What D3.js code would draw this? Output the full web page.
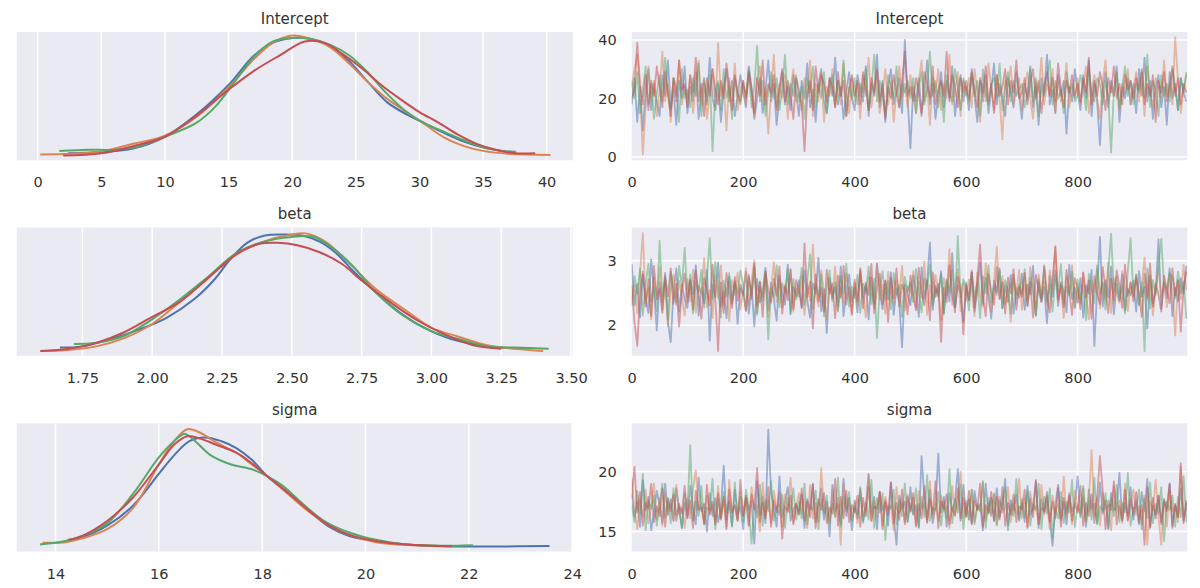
<!DOCTYPE html>
<html><head><meta charset="utf-8">
<script src="https://cdn.jsdelivr.net/npm/d3@7/dist/d3.min.js"></script>
<style>
html,body{margin:0;padding:0;background:#fff;}
svg{display:block;}
text{font-family:"DejaVu Sans",sans-serif;fill:#333;}
</style></head>
<body><svg id="chart" width="1200" height="588"></svg>
<script>
// ---------- data ----------
const paramNames = ["Intercept", "beta", "sigma"];
const chainColors = ["#4c72b0", "#dd8452", "#55a868", "#c44e52"];

const kdeTicksIntercept = [0, 5, 10, 15, 20, 25, 30, 35, 40];
const kdeTicksBeta = [1.75, 2.00, 2.25, 2.50, 2.75, 3.00, 3.25, 3.50];
const kdeTicksSigma = [14, 16, 18, 20, 22, 24];
const traceXTicks = [0, 200, 400, 600, 800];
const traceYTicksIntercept = [0, 20, 40];
const traceYTicksBeta = [2, 3];
const traceYTicksSigma = [15, 20];

// KDE curves per chain: [value, relative density]
const kdeIntercept = [
 [[2.4,0.02],[5,0.03],[7.5,0.06],[10,0.16],[12.5,0.35],[15,0.6],[17,0.85],[18.5,0.96],[20,1.0],[21.5,0.99],[23,0.93],[24.5,0.8],[26,0.62],[27.5,0.45],[29,0.35],[30.5,0.27],[32,0.19],[33.5,0.12],[35,0.07],[36.5,0.04],[37.6,0.03]],
 [[0.2,0.01],[2.5,0.015],[5,0.035],[7.5,0.1],[10,0.17],[12.5,0.33],[15,0.58],[17,0.82],[18.5,0.96],[20,1.02],[21.5,0.99],[23,0.92],[24.5,0.78],[26,0.62],[27.5,0.48],[29,0.37],[30.5,0.26],[32,0.15],[33.5,0.08],[35,0.04],[37,0.015],[40.3,0.005]],
 [[1.7,0.04],[4,0.05],[6,0.05],[8,0.08],[10,0.16],[12.5,0.28],[14,0.42],[15.5,0.63],[17,0.84],[18.5,0.97],[20,1.0],[21.5,0.99],[23,0.94],[24.5,0.85],[26,0.7],[27.5,0.52],[29,0.37],[30.5,0.27],[32,0.2],[33.5,0.13],[35,0.07],[36.5,0.04],[37.6,0.03]],
 [[2,0.0],[5,0.02],[7.5,0.08],[10,0.16],[12.5,0.34],[15,0.56],[17,0.72],[19,0.85],[21,0.97],[22.5,0.96],[24,0.86],[25.5,0.74],[27,0.6],[28.5,0.48],[30,0.37],[31.5,0.28],[33,0.18],[34.5,0.1],[36,0.05],[37.5,0.02],[39.1,0.02]]
];
const kdeBeta = [
 [[1.67,0.03],[1.75,0.04],[1.85,0.1],[1.95,0.18],[2.05,0.28],[2.15,0.44],[2.22,0.6],[2.28,0.78],[2.34,0.92],[2.4,0.98],[2.47,0.99],[2.54,0.98],[2.6,0.93],[2.66,0.83],[2.72,0.68],[2.8,0.5],[2.88,0.34],[2.95,0.23],[3.05,0.12],[3.15,0.06],[3.25,0.03],[3.35,0.02]],
 [[1.6,0.0],[1.7,0.01],[1.8,0.04],[1.9,0.11],[2.0,0.23],[2.1,0.42],[2.2,0.62],[2.3,0.82],[2.4,0.93],[2.5,0.99],[2.55,1.0],[2.62,0.93],[2.7,0.76],[2.8,0.53],[2.9,0.36],[3.0,0.2],[3.1,0.12],[3.2,0.05],[3.3,0.02],[3.4,0.0]],
 [[1.72,0.06],[1.8,0.07],[1.9,0.13],[2.0,0.27],[2.1,0.44],[2.2,0.63],[2.3,0.83],[2.4,0.93],[2.5,0.97],[2.58,0.97],[2.65,0.87],[2.72,0.72],[2.8,0.5],[2.9,0.3],[3.0,0.17],[3.1,0.1],[3.2,0.04],[3.3,0.03],[3.42,0.02]],
 [[1.6,0.0],[1.7,0.02],[1.8,0.07],[1.9,0.16],[2.0,0.29],[2.1,0.42],[2.2,0.62],[2.3,0.82],[2.38,0.91],[2.45,0.92],[2.52,0.9],[2.6,0.84],[2.68,0.74],[2.75,0.6],[2.85,0.42],[2.95,0.26],[3.05,0.14],[3.15,0.05],[3.25,0.02]]
];
const kdeSigma = [
 [[14.2,0.05],[14.5,0.08],[15,0.18],[15.5,0.35],[16,0.62],[16.3,0.78],[16.6,0.9],[16.9,0.93],[17.2,0.9],[17.5,0.84],[17.8,0.74],[18.1,0.6],[18.5,0.46],[18.9,0.31],[19.3,0.17],[19.7,0.09],[20.2,0.05],[20.8,0.02],[21.5,0.005],[22.5,0.003],[23.56,0.008]],
 [[13.75,0.035],[14.2,0.04],[14.5,0.07],[15,0.15],[15.5,0.33],[16,0.7],[16.3,0.9],[16.55,1.0],[16.8,0.97],[17.1,0.89],[17.5,0.8],[17.8,0.7],[18.1,0.6],[18.5,0.45],[18.9,0.3],[19.3,0.18],[19.7,0.1],[20.2,0.04],[20.8,0.015],[21.4,0.01]],
 [[13.7,0.02],[14.2,0.05],[14.5,0.09],[15,0.2],[15.5,0.45],[16,0.76],[16.3,0.9],[16.5,0.96],[16.7,0.9],[17,0.78],[17.4,0.7],[17.8,0.66],[18.1,0.6],[18.4,0.52],[18.8,0.36],[19.2,0.22],[19.7,0.12],[20.2,0.06],[20.8,0.02],[21.5,0.01],[22.08,0.015]],
 [[14.25,0.06],[14.5,0.09],[15,0.22],[15.5,0.42],[16,0.7],[16.3,0.87],[16.55,0.94],[16.8,0.92],[17.1,0.87],[17.5,0.8],[17.8,0.71],[18.1,0.6],[18.5,0.46],[18.9,0.31],[19.3,0.18],[19.7,0.1],[20.2,0.05],[20.8,0.02],[21.67,0.005]]
];

// Trace values, one sample every 5 draws (200 per chain)
const drawStep = 5;
const traceIntercept = [
 [18,27,12,24,9,22,30,16,25,19,14,28,21,33,17,23,11,26,20,31,
  15,24,19,29,13,22,27,18,34,20,16,25,12,23,30,19,26,14,21,28,
  22,17,31,24,13,20,27,15,23,33,19,25,11,21,29,18,24,16,28,22,
  14,26,20,32,17,23,12,25,30,19,15,27,21,34,18,24,13,22,29,20,
  16,28,23,19,31,14,25,21,35,17,26,12,24,30,18,22,27,15,40,20,
  3,24,19,27,15,22,33,18,25,13,21,29,17,26,20,31,14,23,28,19,
  24,16,30,21,12,26,19,28,15,23,32,18,25,20,14,27,22,17,29,21,
  13,25,20,31,17,24,11,27,22,35,18,23,15,28,21,26,8,24,19,30,
  22,16,28,20,33,14,25,19,4,23,29,17,26,21,31,12,24,20,27,18,
  25,15,30,21,34,19,26,13,23,28,17,24,11,29,20,25,16,27,22,19],
 [24,30,35,22,0.8,17,31,20,26,14,23,36,19,25,12,27,21,33,18,24,
  20,28,15,24,33,18,26,13,22,30,17,39,21,25,9,27,19,32,16,23,
  26,18,29,21,14,27,31,19,24,8,22,35,17,25,20,28,13,23,30,19,
  22,16,27,20,33,14,25,19,29,12,24,21,30,17,26,18,32,22,15,27,
  19,25,13,28,21,34,17,24,29,15,22,30,18,26,12,23,31,20,25,17,
  28,21,15,26,33,19,24,11,27,22,30,16,25,20,35,18,23,29,14,26,
  21,27,17,30,22,12,25,19,32,23,16,28,20,6,26,24,31,18,22,27,
  16,24,29,20,13,26,22,34,18,25,21,30,15,27,19,23,32,17,24,20,
  27,18,24,31,15,22,28,20,13,26,33,19,24,21,29,16,25,22,30,18,
  23,29,19,26,14,31,22,17,27,24,20,33,21,25,18,41,26,15,23,28],
 [26,20,29,15,23,31,18,25,13,22,28,19,34,21,16,27,24,12,30,20,
  23,17,27,21,32,14,25,19,28,2,22,26,16,30,20,24,13,27,21,18,
  25,21,30,17,24,38,19,26,14,22,29,20,27,16,23,35,18,25,21,28,
  19,24,13,27,22,31,17,25,20,29,15,23,28,18,26,21,33,14,24,20,
  27,18,25,22,30,16,23,35,19,26,21,14,28,24,20,31,17,25,22,26,
  20,27,15,24,29,18,23,36,21,26,17,25,12,28,22,19,30,24,16,27,
  23,19,28,21,26,14,30,22,18,25,27,20,32,16,24,29,19,26,21,23,
  25,17,22,30,19,27,14,24,21,28,33,18,26,20,23,15,29,22,25,19,
  21,28,24,16,30,22,19,27,25,18,26,20,1.5,23,29,17,24,31,21,26,
  18,25,22,29,20,35,17,26,23,14,28,21,25,19,30,24,16,27,22,29],
 [20,23,39,25,18,28,16,26,21,31,24,17,29,22,14,27,19,33,23,25,
  17,28,22,34,19,25,14,27,21,30,23,18,26,20,32,24,16,28,22,19,
  26,20,29,23,15,27,21,33,18,25,22,28,16,24,30,19,26,21,13,27,
  23,18,2,21,26,16,31,22,28,25,19,27,24,17,29,21,26,14,23,28,
  21,26,18,29,23,16,27,22,30,19,25,13,24,20,28,22,17,26,36,21,
  24,19,27,22,14,29,25,20,31,18,23,26,21,36,19,28,24,17,27,22,
  26,20,29,23,17,27,22,31,19,25,15,28,21,24,30,18,26,22,33,20,
  22,27,18,25,30,20,26,15,24,29,21,27,19,32,23,17,26,22,28,21,
  25,19,27,22,34,18,26,21,29,24,16,27,22,31,20,25,18,28,23,26,
  20,27,23,30,18,25,21,28,12,26,22,29,19,24,31,21,27,18,25,22]
];
const traceBeta = [
 [2.95,2.31,2.64,2.12,2.78,2.43,2.19,3.02,2.55,1.92,2.67,2.36,2.81,2.05,1.74,2.52,2.88,2.21,2.63,2.40,
  2.27,2.71,2.48,2.93,2.15,2.58,2.34,2.86,1.76,2.62,2.44,2.97,2.29,2.53,2.11,2.75,2.39,2.68,2.02,2.57,
  2.46,2.83,2.18,2.61,1.98,2.72,2.35,2.54,2.89,2.23,2.66,2.41,2.07,2.76,2.50,2.32,2.94,2.17,2.59,2.45,
  2.70,2.26,2.85,2.38,2.12,2.65,2.49,3.05,2.22,2.56,1.88,2.73,2.42,2.60,2.30,2.91,2.14,2.52,2.79,2.37,
  2.58,2.20,2.87,2.43,2.66,2.09,2.74,2.33,2.96,2.51,2.25,2.69,2.40,2.82,2.16,2.57,2.35,1.66,2.63,2.47,
  2.31,2.77,2.54,2.13,2.90,2.42,2.68,3.28,2.24,2.59,2.46,2.84,2.19,2.71,2.37,3.12,2.28,2.62,2.50,2.05,
  2.66,2.39,2.81,2.21,2.55,2.97,2.33,2.74,2.45,2.10,2.69,2.52,2.88,2.27,2.61,2.36,2.78,2.18,2.57,2.43,
  2.80,2.24,2.63,2.48,2.92,2.15,2.71,2.37,2.59,2.03,2.76,2.44,2.85,2.30,2.67,2.52,2.20,2.94,2.41,2.58,
  2.35,2.73,2.12,2.62,2.49,2.86,1.68,2.55,3.37,2.29,2.70,2.43,2.91,2.17,2.64,2.38,2.79,2.23,2.56,2.47,
  2.69,2.21,2.84,2.45,2.60,1.95,2.77,2.34,2.53,3.33,2.26,2.66,2.42,2.88,2.14,2.58,2.37,2.73,2.49,2.92],
 [2.40,2.62,2.18,2.81,3.43,2.35,2.57,2.09,2.74,2.46,2.90,2.23,2.65,1.99,2.53,2.78,2.31,2.69,2.44,2.15,
  2.72,2.37,2.86,2.20,2.61,2.49,3.04,2.28,2.55,2.11,2.77,2.42,2.93,2.33,2.58,2.06,2.70,2.47,2.82,2.25,
  2.53,2.88,2.30,2.67,3.01,2.19,2.60,2.44,2.79,2.13,2.56,2.98,2.36,2.71,2.27,2.63,2.50,2.85,2.21,2.57,
  2.44,2.76,2.16,2.63,2.38,3.25,2.52,2.29,2.85,2.47,2.10,2.68,2.41,2.91,2.24,2.59,2.35,2.80,2.55,2.19,
  2.66,2.31,2.89,2.48,2.12,2.74,2.57,2.26,2.95,2.40,2.63,2.18,2.83,2.51,2.34,2.70,2.45,2.92,2.23,2.61,
  2.50,2.84,2.27,2.68,2.43,2.99,2.16,2.62,2.39,2.78,2.54,2.08,2.73,2.46,3.18,2.32,2.59,2.87,2.22,2.65,
  2.38,2.71,2.55,2.14,2.82,2.47,2.29,2.96,2.53,2.20,2.67,3.22,2.41,2.76,2.33,2.58,2.05,2.72,2.49,2.86,
  2.24,2.63,2.40,2.90,2.52,2.17,2.79,2.44,2.68,2.30,2.85,2.56,3.23,2.36,2.61,2.11,2.75,2.48,2.93,2.27,
  2.57,2.34,2.81,2.45,2.09,2.70,2.52,2.88,2.26,2.64,2.41,2.97,2.19,2.73,2.50,2.35,2.84,2.60,2.22,2.67,
  2.46,2.78,2.31,2.62,3.05,2.38,2.71,2.15,2.56,2.89,2.43,2.66,2.28,2.80,2.51,1.84,2.69,2.40,2.94,2.54],
 [2.30,2.76,2.49,2.88,2.15,2.64,2.95,2.37,2.58,2.22,3.31,2.46,2.71,2.09,2.83,2.53,2.35,2.92,2.60,3.20,
  2.43,2.79,2.18,2.66,2.51,2.86,2.27,2.73,3.35,2.41,2.98,2.56,2.12,2.69,2.45,2.81,2.33,2.63,2.50,2.85,
  2.61,2.24,2.75,2.47,2.90,2.16,2.68,2.38,2.82,1.78,2.57,2.44,2.93,2.28,2.65,2.51,2.87,2.20,2.72,2.40,
  2.55,2.89,2.32,2.70,3.10,2.26,2.63,2.46,2.79,2.14,2.58,2.85,2.37,2.67,2.21,2.76,2.49,2.95,2.29,2.60,
  2.42,2.78,2.19,2.64,2.50,2.91,2.33,2.72,1.80,2.56,2.84,2.39,2.68,2.25,2.81,2.47,2.62,2.13,2.75,2.53,
  2.66,2.36,2.87,2.48,2.20,2.73,2.57,2.94,2.31,2.62,2.44,2.80,2.17,2.69,2.52,2.86,2.28,3.38,2.45,2.71,
  2.58,2.23,2.82,2.43,2.67,2.11,2.76,2.50,2.93,2.35,2.61,2.47,2.85,2.26,2.70,2.54,2.18,2.79,2.41,2.64,
  2.49,2.87,2.30,2.74,2.56,2.15,2.68,2.42,2.90,2.36,2.63,2.21,2.77,2.52,2.95,2.33,2.60,2.46,2.83,2.27,
  2.71,2.40,2.62,2.08,2.80,2.55,2.34,2.93,2.48,2.67,2.24,2.86,3.42,2.52,2.75,2.39,2.61,2.18,2.84,3.35,
  2.44,2.79,2.31,2.66,1.60,2.88,2.26,2.70,2.47,2.92,3.34,2.61,2.57,2.81,2.74,2.42,2.83,2.50,2.68,2.10],
 [2.62,2.05,1.68,2.48,2.83,2.29,2.71,2.14,2.92,2.40,2.57,2.19,2.76,2.45,2.88,2.33,2.64,1.98,2.52,2.80,
  2.36,2.69,2.24,2.85,2.47,2.10,2.73,2.55,2.31,2.94,2.42,1.60,2.66,2.19,2.81,2.50,2.27,2.75,2.38,2.63,
  2.49,2.22,2.78,2.41,2.96,2.30,2.67,2.13,2.84,2.54,2.35,2.72,2.46,2.91,2.18,2.60,2.39,2.87,2.25,2.70,
  2.53,2.28,3.27,2.44,2.68,1.95,2.79,2.37,2.58,2.21,2.86,2.49,2.65,2.11,2.77,2.43,2.92,2.32,2.59,2.16,
  2.71,2.38,2.84,2.26,2.62,2.47,2.95,2.19,2.56,2.80,2.33,2.69,2.05,2.74,2.42,2.88,2.29,2.63,2.51,2.17,
  2.77,2.45,2.23,2.89,2.52,2.31,2.70,2.08,2.82,2.44,2.64,1.74,2.58,2.36,2.93,2.48,2.20,2.75,2.57,1.86,
  2.62,2.39,2.85,2.27,2.68,3.25,2.46,2.14,2.79,2.53,2.32,2.90,2.41,2.66,2.18,2.74,2.50,2.87,2.24,2.60,
  2.44,2.81,2.30,2.67,2.12,2.78,2.55,2.36,2.93,2.47,2.20,2.71,3.21,2.40,2.63,2.28,2.86,2.52,2.16,2.73,
  2.58,2.25,2.82,2.43,2.69,2.10,2.76,2.49,2.33,2.90,2.56,2.19,2.72,2.38,2.85,2.61,2.27,2.94,2.45,2.66,
  2.37,2.74,2.51,2.13,2.80,2.42,2.96,2.29,2.64,2.48,2.21,2.77,2.55,2.34,2.88,2.46,2.70,1.90,2.59,2.83]
];
const traceSigma = [
 [18.1,16.2,17.5,15.4,19.3,16.8,17.9,15.1,16.6,18.4,17.2,15.7,19.0,16.4,17.7,15.9,18.6,16.9,15.3,17.4,
  16.1,18.8,17.0,15.6,19.5,16.7,17.3,15.0,18.2,16.3,17.8,15.8,16.9,20.5,16.0,17.6,15.5,18.5,16.5,17.1,
  15.2,18.0,16.8,17.5,14.0,19.2,16.4,17.9,15.7,23.5,18.3,17.0,15.4,19.6,16.2,17.4,18.7,15.9,16.8,17.3,
  16.5,18.1,15.3,17.7,16.9,19.0,15.8,17.2,18.6,16.0,17.5,14.6,18.9,16.7,17.3,15.6,19.4,16.3,17.8,15.1,
  17.6,16.1,18.4,15.9,17.0,19.8,16.6,17.9,15.2,18.3,16.8,17.4,15.5,19.1,16.2,13.9,18.0,16.9,17.5,15.8,
  18.7,16.4,17.2,15.3,21.3,17.8,16.0,18.5,15.7,17.1,21.5,16.6,17.9,15.4,18.2,16.8,17.5,20.2,16.1,18.9,
  16.3,17.7,15.6,18.4,16.9,17.3,15.1,19.0,16.5,17.8,15.9,18.6,16.2,17.1,19.4,15.5,17.6,16.8,18.1,16.0,
  17.4,15.8,18.8,16.4,17.0,19.2,15.3,17.7,16.6,18.3,15.9,13.8,17.2,18.9,16.1,17.5,15.6,18.0,16.7,17.3,
  19.6,16.2,17.8,15.4,18.5,16.9,17.3,15.7,19.1,16.5,17.6,15.2,18.2,16.8,17.0,19.9,15.9,17.4,16.3,18.7,
  16.0,17.5,15.6,18.3,16.7,19.4,15.3,17.1,16.4,18.0,15.8,17.7,16.9,19.0,15.5,17.2,16.2,18.6,15.9,17.4],
 [19.4,16.8,15.2,17.6,16.3,18.5,15.7,17.1,19.0,16.0,17.8,15.5,18.2,16.6,17.3,15.9,18.9,16.4,17.0,15.3,
  17.7,16.1,18.6,20.1,16.9,17.4,15.6,18.0,16.5,17.2,15.8,18.8,16.2,17.6,15.4,19.3,16.7,17.1,15.9,18.3,
  16.4,17.9,15.5,18.7,16.8,17.2,15.0,19.1,16.3,17.6,15.7,18.4,16.9,17.3,15.4,18.1,16.6,19.5,15.8,17.0,
  18.2,16.5,17.7,15.3,18.9,16.1,17.4,15.8,20.3,16.7,17.1,15.6,18.5,16.3,17.8,13.9,19.0,16.9,17.5,16.0,
  17.3,15.7,18.6,16.4,17.0,19.7,15.9,17.6,16.2,18.3,15.5,17.9,16.8,17.2,15.1,18.7,16.5,17.4,15.8,18.1,
  16.6,17.8,15.4,18.4,16.9,17.3,15.7,19.2,16.1,17.5,15.9,18.0,16.7,17.1,15.3,18.8,16.4,17.7,20.0,16.2,
  17.6,16.0,18.5,15.6,17.2,16.8,19.1,15.9,17.4,16.3,18.2,15.5,17.9,16.6,17.0,18.7,15.8,17.3,16.5,19.4,
  16.1,17.7,15.4,18.3,16.8,17.1,15.7,18.9,16.4,17.5,15.2,18.0,16.7,17.3,15.9,19.6,16.2,17.8,15.6,18.4,
  17.0,16.5,18.6,15.8,17.4,21.8,16.3,17.9,15.5,18.2,16.9,17.2,15.1,18.8,16.6,17.6,15.7,19.0,16.0,17.3,
  18.5,16.4,17.1,15.6,18.0,13.9,17.5,16.8,19.3,16.2,13.9,17.7,15.4,18.4,16.7,17.2,15.8,20.4,16.1,17.0],
 [17.2,15.8,18.4,16.5,19.8,15.1,17.6,16.9,18.0,15.5,17.3,19.0,16.2,17.8,15.7,18.6,16.4,17.1,15.3,18.2,
  16.7,22.2,15.9,17.5,16.3,18.8,15.6,17.0,16.8,19.4,15.2,17.7,16.1,18.3,16.6,17.4,15.4,19.1,16.0,17.9,
  15.8,18.5,16.9,14.0,17.3,16.2,18.9,15.5,17.6,16.7,19.2,15.9,17.1,16.4,18.1,15.3,17.8,16.6,18.6,16.0,
  17.5,16.1,19.0,15.6,17.2,16.8,18.4,15.2,17.7,16.5,18.0,15.8,17.3,16.2,19.5,15.4,17.9,16.7,18.3,15.9,
  17.0,16.4,18.7,15.7,17.4,16.0,19.3,15.3,17.8,16.6,18.2,14.3,17.1,16.9,18.5,15.6,17.6,16.3,19.0,15.8,
  17.3,16.5,18.6,15.4,17.9,16.2,19.7,15.9,17.0,16.8,18.3,15.5,17.5,16.1,20.2,15.7,17.7,16.6,18.9,15.2,
  17.4,16.0,18.5,15.8,17.1,16.7,19.2,15.3,17.8,16.4,18.1,15.6,17.6,16.9,18.7,15.1,17.2,16.3,19.4,15.9,
  17.7,16.2,18.4,15.5,17.3,16.8,19.0,15.2,17.9,16.5,18.6,14.5,17.0,16.1,18.3,15.7,17.5,16.6,19.3,15.4,
  17.2,16.4,18.8,15.9,17.6,16.0,19.5,15.6,17.1,16.7,18.2,15.3,17.8,16.3,18.9,15.8,17.4,16.6,19.9,15.5,
  17.0,16.9,18.5,15.2,17.7,16.1,19.1,15.7,17.3,16.5,18.7,14.2,17.5,16.8,18.0,15.4,17.9,16.2,19.6,15.8],
 [17.8,20.4,16.6,18.3,15.5,17.4,16.9,19.0,15.8,17.1,16.3,18.6,15.4,17.7,16.7,18.1,15.9,17.3,16.5,18.8,
  16.2,17.6,15.3,18.4,16.8,17.0,15.7,18.9,16.4,17.5,15.6,18.2,16.0,17.9,15.2,18.5,16.6,17.2,15.9,19.3,
  16.3,17.8,15.5,18.1,16.9,20.3,15.8,17.4,16.1,18.7,15.4,17.6,16.6,18.3,14.4,17.1,16.7,18.0,15.6,17.3,
  16.4,18.6,15.9,17.5,16.2,18.9,15.3,17.7,16.8,18.2,15.7,17.0,16.5,19.4,15.5,17.9,16.1,18.4,15.8,17.2,
  16.6,18.0,15.4,17.8,16.3,18.7,15.9,17.1,16.9,18.3,15.2,17.6,16.4,19.1,15.7,17.4,16.0,18.5,15.6,17.9,
  16.7,18.2,15.5,17.3,16.1,18.8,15.8,17.7,16.5,19.2,15.3,17.5,16.9,18.1,15.6,17.0,16.3,18.6,15.9,17.8,
  16.2,18.4,15.7,17.6,16.8,19.0,15.4,17.2,16.6,18.3,15.9,17.9,16.0,18.7,15.5,17.4,16.4,18.1,15.8,17.1,
  16.9,18.5,15.3,17.7,16.2,19.3,15.6,17.0,16.7,18.0,15.8,17.5,16.1,18.6,15.4,17.8,16.5,18.2,15.9,17.3,
  16.6,18.8,15.5,17.4,16.3,18.1,15.7,17.9,21.3,18.4,15.2,17.6,16.8,19.2,15.6,17.1,16.0,18.5,15.9,17.7,
  16.4,18.3,15.8,17.2,13.9,18.7,15.4,17.8,16.1,18.0,15.6,17.5,16.7,19.0,15.3,17.3,16.2,20.7,15.7,17.6]
];

// ---------- layout ----------
const svg = d3.select("#chart");
const leftX0 = 16.7, leftX1 = 572.7, rightX0 = 631.7, rightX1 = 1187.3;
const rowTop = [32, 227.5, 423.3], rowH = 128.3;

const rows = [
  {name: paramNames[0], kde: kdeIntercept, trace: traceIntercept, kdeTicks: kdeTicksIntercept, kdeDom: [-1.65, 42.05], kdeFmt: d3.format("d"), yTicks: traceYTicksIntercept, yDom: [-1.13, 42.74]},
  {name: paramNames[1], kde: kdeBeta, trace: traceBeta, kdeTicks: kdeTicksBeta, kdeDom: [1.515, 3.506], kdeFmt: d3.format(".2f"), yTicks: traceYTicksBeta, yDom: [1.526, 3.516]},
  {name: paramNames[2], kde: kdeSigma, trace: traceSigma, kdeTicks: kdeTicksSigma, kdeDom: [13.25, 24.01], kdeFmt: d3.format("d"), yTicks: traceYTicksSigma, yDom: [13.33, 24.03]}
];

const defs = svg.append("defs");

rows.forEach((r, ri) => {
  const top = rowTop[ri], bot = top + rowH;

  // ---- left KDE panel ----
  const gL = svg.append("g");
  const xk = d3.scaleLinear().domain(r.kdeDom).range([leftX0, leftX1]);
  const yk = d3.scaleLinear().domain([-0.04, 1.05]).range([bot, top]);
  gL.append("rect").attr("x", leftX0).attr("y", top).attr("width", leftX1 - leftX0).attr("height", rowH).attr("fill", "#eaeaf2");
  const axL = d3.axisBottom(xk).tickValues(r.kdeTicks).tickFormat(r.kdeFmt).tickSize(0).tickPadding(0);
  gL.selectAll("line.grid").data(r.kdeTicks.filter(t => xk(t) > leftX0 && xk(t) < leftX1)).join("line")
    .attr("x1", d => xk(d)).attr("x2", d => xk(d)).attr("y1", top).attr("y2", bot)
    .attr("stroke", "#fff").attr("stroke-width", 1.5);
  const axLg = gL.append("g").attr("transform", `translate(0,${bot})`).call(axL);
  axLg.select(".domain").remove();
  axLg.selectAll("text").attr("y", 27).attr("dy", 0).attr("font-size", 14.5).attr("fill", "#333").attr("font-family", "DejaVu Sans");

  const clipL = "clipL" + ri;
  defs.append("clipPath").attr("id", clipL).append("rect").attr("x", leftX0).attr("y", top).attr("width", leftX1 - leftX0).attr("height", rowH);
  const line = d3.line().x(d => xk(d[0])).y(d => yk(d[1])).curve(d3.curveCatmullRom.alpha(0.5));
  gL.append("g").attr("clip-path", `url(#${clipL})`).selectAll("path").data(r.kde).join("path")
    .attr("d", d => line(d)).attr("fill", "none")
    .attr("stroke", (d, i) => chainColors[i]).attr("stroke-width", 2);

  svg.append("text").attr("x", (leftX0 + leftX1) / 2).attr("y", top - 8.5).attr("text-anchor", "middle")
    .attr("font-size", 15).text(r.name);

  // ---- right trace panel ----
  const gR = svg.append("g");
  const xt = d3.scaleLinear().domain([0, 996.7]).range([rightX0, rightX1]);
  const yt = d3.scaleLinear().domain(r.yDom).range([bot, top]);
  gR.append("rect").attr("x", rightX0).attr("y", top).attr("width", rightX1 - rightX0).attr("height", rowH).attr("fill", "#eaeaf2");
  gR.selectAll("line.vg").data(traceXTicks.filter(t => t > 0)).join("line")
    .attr("x1", d => xt(d)).attr("x2", d => xt(d)).attr("y1", top).attr("y2", bot)
    .attr("stroke", "#fff").attr("stroke-width", 1.5);
  gR.selectAll("line.hg").data(r.yTicks).join("line")
    .attr("x1", rightX0).attr("x2", rightX1).attr("y1", d => yt(d)).attr("y2", d => yt(d))
    .attr("stroke", "#fff").attr("stroke-width", 1.5);

  const axB = gR.append("g").attr("transform", `translate(0,${bot})`)
    .call(d3.axisBottom(xt).tickValues(traceXTicks).tickFormat(d3.format("d")).tickSize(0).tickPadding(0));
  axB.select(".domain").remove();
  axB.selectAll("text").attr("y", 27).attr("dy", 0).attr("font-size", 14.5).attr("fill", "#333").attr("font-family", "DejaVu Sans");

  const axY = gR.append("g").attr("transform", `translate(${rightX0},0)`)
    .call(d3.axisLeft(yt).tickValues(r.yTicks).tickFormat(d3.format("d")).tickSize(0).tickPadding(15));
  axY.select(".domain").remove();
  axY.selectAll("text").attr("font-size", 14.5).attr("fill", "#333").attr("font-family", "DejaVu Sans");

  const clipR = "clipR" + ri;
  defs.append("clipPath").attr("id", clipR).append("rect").attr("x", rightX0).attr("y", top).attr("width", rightX1 - rightX0).attr("height", rowH);
  const tline = d3.line().x((d, i) => xt(i * drawStep)).y(d => yt(d));
  gR.append("g").attr("clip-path", `url(#${clipR})`).selectAll("path").data(r.trace).join("path")
    .attr("d", d => tline(d)).attr("fill", "none")
    .attr("stroke", (d, i) => chainColors[i]).attr("stroke-width", 1.8).attr("stroke-opacity", 0.5)
    .attr("stroke-linejoin", "round");

  svg.append("text").attr("x", (rightX0 + rightX1) / 2).attr("y", top - 8.5).attr("text-anchor", "middle")
    .attr("font-size", 15).text(r.name);
});
</script></body></html>
